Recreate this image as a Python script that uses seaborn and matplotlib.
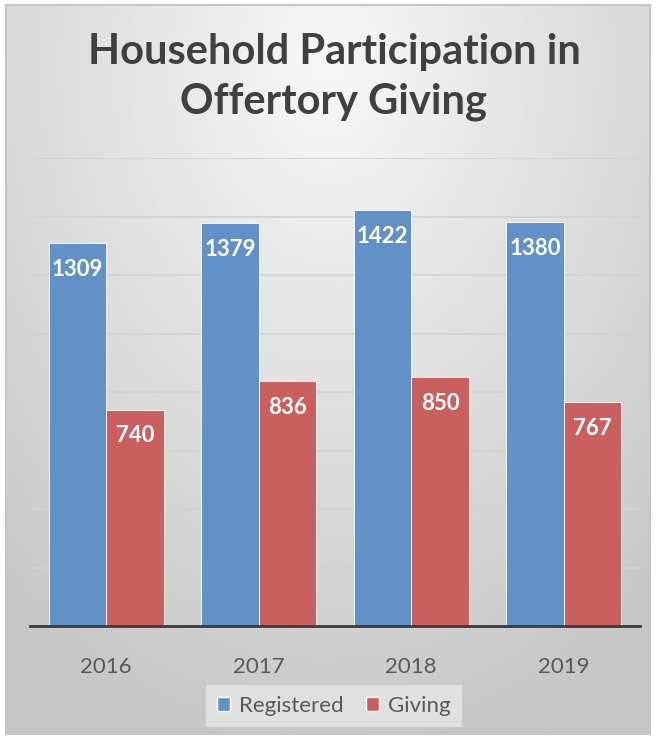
""" Household participation in offertory giving, 2016-2019. """

import numpy as np
import pandas as pd
import seaborn as sns
import matplotlib.pyplot as plt


years = ['2016', '2017', '2018', '2019']
registered = [1309, 1379, 1422, 1380]
giving = [740, 836, 850, 767]
series = ['Registered', 'Giving']
colores = ['#6191c7', '#c9605f']


def fundo_gradiente(fig):
    # fundo com gradiente radial, claro no alto e escuro nas bordas
    bg = fig.add_axes([6 / 656, 5 / 739, 644 / 656, 729 / 739], zorder=0)
    yy, xx = np.mgrid[0:1:300j, 0:1:300j]
    dist = np.sqrt(((xx - 0.5) / 0.9) ** 2 + ((yy - 0.08) / 1.1) ** 2)
    val = np.clip(0.97 - 0.22 * dist, 0.78, 0.97)
    bg.imshow(val, cmap='gray', vmin=0, vmax=1, aspect='auto', extent=[0, 1, 1, 0])
    bg.set_xticks([])
    bg.set_yticks([])
    for s in bg.spines.values():
        s.set_color('#c6c6c6')
        s.set_linewidth(1.5)
    return bg


def plot_barras():
    df = pd.DataFrame({'ano': years * 2,
                       'serie': [series[0]] * 4 + [series[1]] * 4,
                       'valor': registered + giving})

    sns.set_theme(style='white')
    plt.rcParams['font.family'] = ['Lato', 'DejaVu Sans']

    fig = plt.figure(figsize=(6.56, 7.39), dpi=100, facecolor='white')
    fundo_gradiente(fig)

    ax = fig.add_axes([30 / 656, 1 - 626 / 739, 610 / 656, 468 / 739], zorder=1)
    ax.patch.set_alpha(0)
    sns.barplot(data=df, x='ano', y='valor', hue='serie', palette=colores,
                width=0.755, ax=ax, saturation=1, legend=True)
    ax.set_ylim(0, 1600)
    ax.set_yticks(range(200, 1601, 200))
    ax.yaxis.grid(True, color='#d2d2d2', linewidth=1.2)
    ax.set_axisbelow(True)
    ax.tick_params(axis='y', left=False, labelleft=False)
    ax.tick_params(axis='x', bottom=False, pad=16, labelsize=16, labelcolor='#595959')
    ax.set_xlabel('')
    ax.set_ylabel('')
    for lado in ['top', 'left', 'right']:
        ax.spines[lado].set_visible(False)
    ax.spines['bottom'].set_color('#3a3a3a')
    ax.spines['bottom'].set_linewidth(2)

    for cont in ax.containers:
        for barra in cont:
            barra.set_edgecolor('white')
            barra.set_linewidth(0.6)
            h = barra.get_height()
            ax.annotate(f'{h:.0f}', xy=(barra.get_x() + barra.get_width() / 2, h),
                        xytext=(0, -19), textcoords='offset points',
                        ha='center', va='center', color='white',
                        fontsize=16, fontweight='bold')

    handles, labels = ax.get_legend_handles_labels()
    ax.get_legend().remove()
    leg = fig.legend(handles, labels, loc='center', bbox_to_anchor=(334 / 656, 1 - 706 / 739),
                     ncol=2, frameon=True, fontsize=16, handlelength=0.6, handleheight=0.6,
                     handletextpad=0.4, columnspacing=1.0, borderpad=0.5, fancybox=False)
    leg.get_frame().set_facecolor('#e6e6e6')
    leg.get_frame().set_edgecolor('none')
    for t in leg.get_texts():
        t.set_color('#595959')

    fig.text(334 / 656, 1 - 77 / 739, 'Household Participation in\nOffertory Giving',
             ha='center', va='center', fontsize=30, fontweight='bold',
             color='#404040', linespacing=1.4)

    plt.savefig('out.png', dpi=100)
    plt.close()


if __name__ == '__main__':
    plot_barras()
